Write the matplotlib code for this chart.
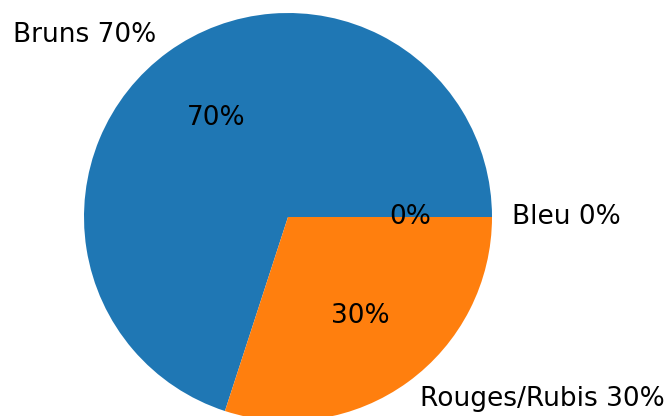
import matplotlib
matplotlib.use("Agg")
import matplotlib.pyplot as plt

# slice data, in drawing order (counter-clockwise from 3 o'clock)
labels = ["Bruns 70%", "Rouges/Rubis 30%", "Bleu 0%"]
values = [70, 30, 0]
colors = ["#1f77b4", "#ff7f0e", "#2ca02c"]

fig = plt.figure(figsize=(6.67, 4.16), dpi=100)
# axes placed so the pie fills the frame like the reference (it is cropped top and bottom)
ax = fig.add_axes([33 / 667, -56 / 416, 510 / 667, 510 / 416])

ax.pie(values, labels=labels, colors=colors, autopct="%1.0f%%",
       textprops={"fontsize": 19})
ax.set_aspect("equal")

fig.savefig("out.png", dpi=100)
